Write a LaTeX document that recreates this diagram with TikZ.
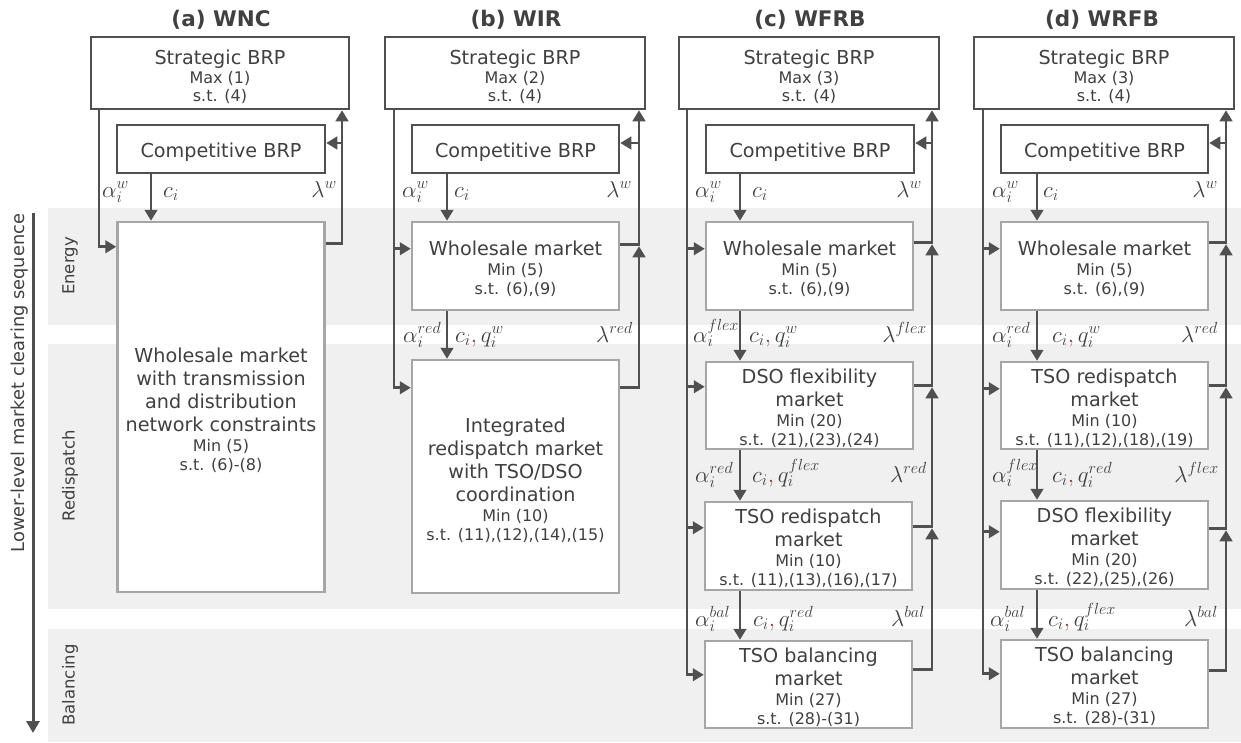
\RequirePackage{fix-cm}
\documentclass[tikz,border=0pt]{standalone}
\usepackage{fontspec}
\setmainfont{DejaVu Sans}
\usetikzlibrary{arrows.meta,calc}
\definecolor{txt}{HTML}{404040}
\definecolor{lnc}{HTML}{505050}
\definecolor{mkc}{HTML}{A6A6A6}
\definecolor{bandc}{HTML}{F0F0F0}
\definecolor{cmc}{HTML}{8B3A3A}
\newcommand{\bigt}{\fontsize{19.2}{23}\selectfont}
\newcommand{\smt}{\fontsize{16}{19}\selectfont}
\newcommand{\cmm}{\textcolor{cmc}{,}\,}
\newcommand{\tp}[1]{\rule{0pt}{#1pt}}
\tikzset{
  brp/.style={draw=lnc, line width=2.5pt, fill=white, text=txt, align=center, font=\smt, inner sep=0pt},
  mkt/.style={draw=mkc, line width=2.5pt, fill=white, text=txt, align=center, font=\smt, inner sep=0pt, minimum width=207pt},
  conn/.style={draw=lnc, line width=2.8pt},
  arr/.style={conn, -{Triangle[length=11pt,width=12.5pt]}},
  jarr/.style={arr, shorten >=1.5pt},
  lab/.style={text=txt, font=\fontsize{23}{26}\selectfont, inner sep=0pt},
  ttl/.style={text=txt, font=\fontsize{21.5}{25}\selectfont\bfseries},
  bandlab/.style={text=txt, font=\fontsize{16.5}{19}\selectfont, rotate=90},
  band/.style={fill=bandc, draw=none},
}
\begin{document}
\begin{tikzpicture}[x=1pt,y={(0pt,-1pt)}]
\useasboundingbox (0,0) rectangle (1241,742);
% bands
\fill[band] (48,208) rectangle (1241,325);
\fill[band] (48,344) rectangle (1241,609);
\fill[band] (48,629) rectangle (1241,742);
\node[bandlab] (lbE) at (70,266) {Energy};
\node[bandlab] (lbR) at (70,476) {Redispatch};
\node[bandlab] (lbB) at (70,685) {Balancing};
% axis
\coordinate (axt) at (33,213);
\coordinate (axb) at (33,733);
\draw[conn, line width=3pt, -{Triangle[length=12pt,width=13pt]}] (axt) -- (axb);
\node[text=txt, font=\fontsize{17.8}{20}\selectfont, rotate=90] (axl) at (20,383) {Lower-level market clearing sequence};
% titles
\node[ttl] (ta) at (221,20) {(a) WNC};
\node[ttl] (tb) at (516,20) {(b) WIR};
\node[ttl] (tc) at (810,20) {(c) WFRB};
\node[ttl] (td) at (1102,20) {(d) WRFB};

% ================= column (a)
\node[brp, minimum width=258pt, minimum height=72pt] (sa) at (220,73) {{\bigt\tp{22}Strategic BRP}\\[0pt]Max (1)\\[-1pt]s.t. (4)};
\node[brp, minimum width=208pt, minimum height=48pt, font=\bigt] (ca) at (221,149) {\tp{20}Competitive BRP};
\node[mkt, minimum height=370pt] (ma) at (221,407) {{\bigt\tp{21.5}Wholesale market}\\[4pt]{\bigt with transmission}\\[4pt]{\bigt and distribution}\\[4pt]{\bigt network constraints}\\[1pt]Min (5)\\s.t. (6)-(8)};
\coordinate (aL) at (99,0);
\coordinate (aR) at (342,0);
\coordinate (aC) at (151,0);
\coordinate (mai) at ([yshift=-26pt]ma.north west);
\coordinate (mao) at ([yshift=-23pt]ma.north east);
\coordinate (caf) at ([yshift=6pt]ca.east);
\draw[arr] (aL |- sa.south) |- (mai);
\draw[arr] (aC |- ca.south) -- (aC |- ma.north);
\draw[arr] (mao) -| (aR |- sa.south);
\draw[arr] (aR |- caf) -- (caf);
\node[lab, anchor=base west] (a1) at (102,197) {$\alpha_i^w$};
\node[lab, anchor=base west] (a2) at (163,197) {$c_i$};
\node[lab, anchor=base east] (a3) at (337,197) {$\lambda^w$};

% ================= column (b)
\node[brp, minimum width=260pt, minimum height=72pt] (sb) at (515,73) {{\bigt\tp{22}Strategic BRP}\\[0pt]Max (2)\\[-1pt]s.t. (4)};
\node[brp, minimum width=207pt, minimum height=48pt, font=\bigt] (cb) at (515.5,149) {\tp{20}Competitive BRP};
\node[mkt, minimum height=88pt] (wb) at (515.5,266) {{\bigt\tp{20}Wholesale market}\\[1pt]Min (5)\\s.t. (6),(9)};
\node[mkt, minimum height=233pt] (ib) at (515.5,476.5) {{\bigt\tp{22}Integrated}\\[4pt]{\bigt redispatch market}\\[4pt]{\bigt with TSO/DSO}\\[4pt]{\bigt coordination}\\[1pt]Min (10)\\s.t. (11),(12),(14),(15)};
\coordinate (bL) at (394,0);
\coordinate (bR) at (639,0);
\coordinate (bC) at (447,0);
\coordinate (wbi) at ([yshift=-28pt]wb.north west);
\coordinate (wbo) at ([yshift=-24pt]wb.north east);
\coordinate (ibi) at ([yshift=-29pt]ib.north west);
\coordinate (ibo) at ([yshift=-29pt]ib.north east);
\coordinate (cbf) at ([yshift=6pt]cb.east);
\draw[arr] (bL |- sb.south) |- (wbi);
\draw[arr] (bL |- sb.south) |- (ibi);
\draw[arr] (bC |- cb.south) -- (bC |- wb.north);
\draw[arr] (bC |- wb.south) -- (bC |- ib.north);
\draw[arr] (wbo) -| (bR |- sb.south);
\draw[arr] (bR |- cbf) -- (cbf);
\draw[jarr] (ibo) -| (bR |- wbo);
\node[lab, anchor=base west] (b1) at (402,197) {$\alpha_i^w$};
\node[lab, anchor=base west] (b2) at (454,197) {$c_i$};
\node[lab, anchor=base east] (b3) at (632,197) {$\lambda^w$};
\node[lab, anchor=base west] (b4) at (403,342) {$\alpha_i^{red}$};
\node[lab, anchor=base west] (b5) at (455,342) {$c_i\cmm q_i^w$};
\node[lab, anchor=base east] (b6) at (633,342) {$\lambda^{red}$};

% ================= column (c)
\node[brp, minimum width=260pt, minimum height=72pt] (sc) at (809,73) {{\bigt\tp{22}Strategic BRP}\\[0pt]Max (3)\\[-1pt]s.t. (4)};
\node[brp, minimum width=208pt, minimum height=48pt, font=\bigt] (cc) at (810,149) {\tp{20}Competitive BRP};
\node[mkt, minimum height=88pt] (wc) at (809.5,266) {{\bigt\tp{20}Wholesale market}\\[1pt]Min (5)\\s.t. (6),(9)};
\node[mkt, minimum height=87pt] (dc) at (809.5,405.5) {{\bigt\tp{20}DSO flexibility}\\[4pt]{\bigt market}\\[1pt]Min (20)\\s.t. (21),(23),(24)};
\node[mkt, minimum height=88pt] (tsc) at (808.5,546) {{\bigt\tp{20}TSO redispatch}\\[4pt]{\bigt market}\\[1pt]Min (10)\\s.t. (11),(13),(16),(17)};
\node[mkt, minimum height=87pt] (bc) at (808.5,684.5) {{\bigt\tp{20}TSO balancing}\\[4pt]{\bigt market}\\[1pt]Min (27)\\s.t. (28)-(31)};
\coordinate (cL) at (687,0);
\coordinate (cR) at (932,0);
\coordinate (cC) at (740,0);
\coordinate (wci) at ([yshift=-28pt]wc.north west);
\coordinate (wco) at ([yshift=-22pt]wc.north east);
\coordinate (dci) at ([yshift=-26pt]dc.north west);
\coordinate (dco) at ([yshift=-25pt]dc.north east);
\coordinate (tci) at ([yshift=-27pt]tsc.north west);
\coordinate (tco) at ([yshift=-26pt]tsc.north east);
\coordinate (bci) at ([yshift=-35pt]bc.north west);
\coordinate (bco) at ([yshift=-30pt]bc.north east);
\coordinate (ccf) at ([yshift=6pt]cc.east);
\draw[arr] (cL |- sc.south) |- (wci);
\draw[arr] (cL |- sc.south) |- (dci);
\draw[arr] (cL |- sc.south) |- (tci);
\draw[arr] (cL |- sc.south) |- (bci);
\draw[arr] (cC |- cc.south) -- (cC |- wc.north);
\draw[arr] (cC |- wc.south) -- (cC |- dc.north);
\draw[arr] (cC |- dc.south) -- (cC |- tsc.north);
\draw[arr] (cC |- tsc.south) -- (cC |- bc.north);
\draw[arr] (wco) -| (cR |- sc.south);
\draw[arr] (cR |- ccf) -- (ccf);
\draw[jarr] (dco) -| (cR |- wco);
\draw[jarr] (tco) -| (cR |- dco);
\draw[jarr] (bco) -| (cR |- tco);
\node[lab, anchor=base west] (c1) at (695,197) {$\alpha_i^w$};
\node[lab, anchor=base west] (c2) at (752,197) {$c_i$};
\node[lab, anchor=base east] (c3) at (922,197) {$\lambda^w$};
\node[lab, anchor=base west] (c4) at (693,342) {$\alpha_i^{flex}$};
\node[lab, anchor=base west] (c5) at (749,342) {$c_i\cmm q_i^w$};
\node[lab, anchor=base east] (c6) at (927,342) {$\lambda^{flex}$};
\node[lab, anchor=base west] (c7) at (695,482) {$\alpha_i^{red}$};
\node[lab, anchor=base west] (c8) at (752,482) {$c_i\cmm q_i^{flex}$};
\node[lab, anchor=base east] (c9) at (927,482) {$\lambda^{red}$};
\node[lab, anchor=base west] (c10) at (695,626) {$\alpha_i^{bal}$};
\node[lab, anchor=base west] (c11) at (753,626) {$c_i\cmm q_i^{red}$};
\node[lab, anchor=base east] (c12) at (925,626) {$\lambda^{bal}$};

% ================= column (d)
\node[brp, minimum width=260pt, minimum height=72pt] (sd) at (1104,73) {{\bigt\tp{22}Strategic BRP}\\[0pt]Max (3)\\[-1pt]s.t. (4)};
\node[brp, minimum width=207pt, minimum height=48pt, font=\bigt] (cd) at (1104.5,149) {\tp{20}Competitive BRP};
\node[mkt, minimum height=88pt] (wd) at (1104.5,266) {{\bigt\tp{20}Wholesale market}\\[1pt]Min (5)\\s.t. (6),(9)};
\node[mkt, minimum height=87pt] (tdd) at (1104.5,405.5) {{\bigt\tp{20}TSO redispatch}\\[4pt]{\bigt market}\\[1pt]Min (10)\\s.t. (11),(12),(18),(19)};
\node[mkt, minimum height=88pt] (dd) at (1104.5,545) {{\bigt\tp{20}DSO flexibility}\\[4pt]{\bigt market}\\[1pt]Min (20)\\s.t. (22),(25),(26)};
\node[mkt, minimum height=88pt] (bd) at (1104.5,684) {{\bigt\tp{20}TSO balancing}\\[4pt]{\bigt market}\\[1pt]Min (27)\\s.t. (28)-(31)};
\coordinate (dL) at (983,0);
\coordinate (dR) at (1226,0);
\coordinate (dC) at (1037,0);
\coordinate (wdi) at ([yshift=-28pt]wd.north west);
\coordinate (wdo) at ([yshift=-22pt]wd.north east);
\coordinate (tdi) at ([yshift=-28pt]tdd.north west);
\coordinate (tdo) at ([yshift=-25pt]tdd.north east);
\coordinate (ddi) at ([yshift=-32pt]dd.north west);
\coordinate (ddo) at ([yshift=-29pt]dd.north east);
\coordinate (bdi) at ([yshift=-35pt]bd.north west);
\coordinate (bdo) at ([yshift=-32pt]bd.north east);
\coordinate (cdf) at ([yshift=6pt]cd.east);
\draw[arr] (dL |- sd.south) |- (wdi);
\draw[arr] (dL |- sd.south) |- (tdi);
\draw[arr] (dL |- sd.south) |- (ddi);
\draw[arr] (dL |- sd.south) |- (bdi);
\draw[arr] (dC |- cd.south) -- (dC |- wd.north);
\draw[arr] (dC |- wd.south) -- (dC |- tdd.north);
\draw[arr] (dC |- tdd.south) -- (dC |- dd.north);
\draw[arr] (dC |- dd.south) -- (dC |- bd.north);
\draw[arr] (wdo) -| (dR |- sd.south);
\draw[arr] (dR |- cdf) -- (cdf);
\draw[jarr] (tdo) -| (dR |- wdo);
\draw[jarr] (ddo) -| (dR |- tdo);
\draw[jarr] (bdo) -| (dR |- ddo);
\node[lab, anchor=base west] (d1) at (992,197) {$\alpha_i^w$};
\node[lab, anchor=base west] (d2) at (1043,197) {$c_i$};
\node[lab, anchor=base east] (d3) at (1218,197) {$\lambda^w$};
\node[lab, anchor=base west] (d4) at (992,342) {$\alpha_i^{red}$};
\node[lab, anchor=base west] (d5) at (1052,342) {$c_i\cmm q_i^w$};
\node[lab, anchor=base east] (d6) at (1218,342) {$\lambda^{red}$};
\node[lab, anchor=base west] (d7) at (992,482) {$\alpha_i^{flex}$};
\node[lab, anchor=base west] (d8) at (1052,482) {$c_i\cmm q_i^{red}$};
\node[lab, anchor=base east] (d9) at (1219,482) {$\lambda^{flex}$};
\node[lab, anchor=base west] (d10) at (990,626) {$\alpha_i^{bal}$};
\node[lab, anchor=base west] (d11) at (1048,626) {$c_i\cmm q_i^{flex}$};
\node[lab, anchor=base east] (d12) at (1218,626) {$\lambda^{bal}$};
\end{tikzpicture}
\end{document}
